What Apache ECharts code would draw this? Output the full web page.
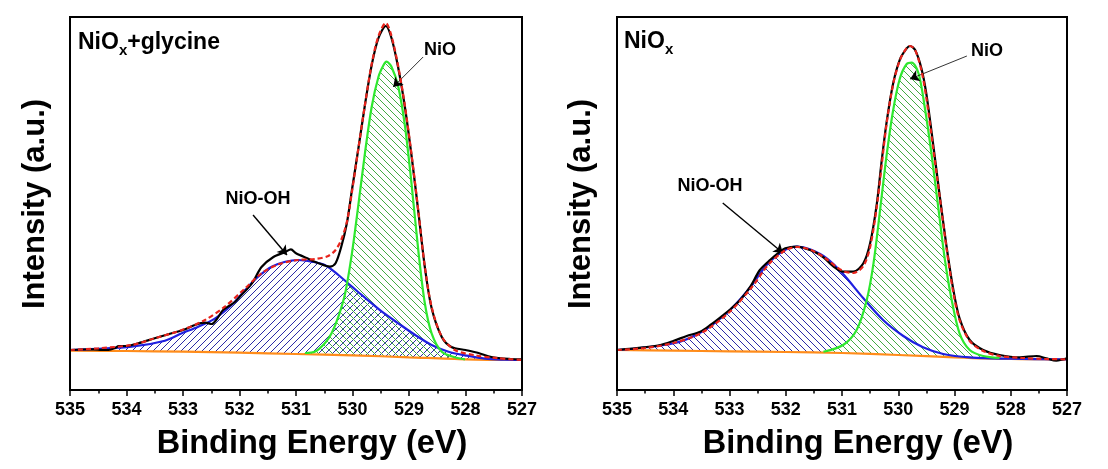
<!DOCTYPE html>
<html>
<head>
<meta charset="utf-8">
<script src="https://cdn.jsdelivr.net/npm/echarts@6/dist/echarts.min.js"></script>
<title>O 1s XPS</title>
<style>
  html, body { margin: 0; padding: 0; background: #fff; }
  #c { width: 1108px; height: 469px; }
</style>
</head>
<body>
<div id="c"></div>
<script>
// binding energy (eV), intensity (a.u.)
// left panel: NiOx + glycine
var glyRaw = [[535.00,40],[534.80,40.5],[534.59,40.7],[534.45,40.2],[534.32,40],[534.20,42],[534.14,44],[534.00,44],[533.79,46.7],[533.50,51.7],[533.20,56.7],[533.00,60],[532.79,65],[532.61,67.3],[532.49,66],[532.40,71],[532.29,80],[532.08,88],[532.00,93],[531.78,106.7],[531.61,123],[531.40,133],[531.19,138],[531.09,140.7],[531.00,136.7],[530.80,131.7],[530.60,126.7],[530.40,123.3],[530.30,126.7],[530.20,143],[530.10,166.7],[530.01,200],[529.90,240],[529.78,285],[529.66,325],[529.54,352],[529.41,364],[529.31,352],[529.19,322],[529.07,282],[528.95,232],[528.83,176],[528.72,123],[528.60,82],[528.42,53],[528.25,43],[528.00,40],[527.77,37],[527.54,33],[527.20,31],[527.00,30.7]];
var glyFit = [[535.00,40],[534.50,41.7],[533.91,45],[533.50,51.7],[533.02,60],[532.61,70],[532.26,83.3],[531.90,101.7],[531.61,116.7],[531.31,125.7],[530.96,130],[530.66,131],[530.43,134],[530.30,140],[530.20,150],[530.10,168],[530.01,198],[529.90,240],[529.78,285],[529.66,326],[529.54,354],[529.41,367],[529.31,354],[529.19,323.3],[529.07,283.3],[528.95,233.3],[528.83,176.7],[528.72,123.3],[528.60,83.3],[528.42,53.3],[528.19,40],[527.83,34.7],[527.42,31.7],[527.00,30]];
var glyNiO = [[530.84,37],[530.66,38.5],[530.49,46.7],[530.37,56.7],[530.25,73.3],[530.13,96.7],[530.01,136.7],[529.90,183.3],[529.78,236.7],[529.66,283.3],[529.54,313.3],[529.45,325],[529.40,328.3],[529.31,323.3],[529.19,303.3],[529.07,263.3],[528.95,203.3],[528.83,136.7],[528.72,86.7],[528.60,56.7],[528.42,38.3],[528.19,32.7],[528.01,30.7]];
var glyNiOOH = [[535.00,40],[533.91,43.3],[533.32,49.3],[533.02,56.7],[532.73,63.3],[532.43,71.7],[532.14,85],[531.90,100],[531.67,113.3],[531.43,123.3],[531.19,128.3],[530.96,130],[530.72,128.3],[530.49,125],[530.25,115],[530.01,103.3],[529.78,92.3],[529.48,78.3],[529.19,66.7],[528.89,55],[528.60,45],[528.30,38.3],[528.01,34.7],[527.66,31.3],[527.30,30.3],[527.00,30]];
var glyBg = [[535,39.3],[534,39],[533,38.3],[532,37.3],[531,36],[530,34.7],[529,32.7],[528,30.7],[527,30]];

// right panel: NiOx
var pureRaw = [[535.00,40],[534.53,42.7],[534.23,45],[533.99,49.3],[533.76,54],[533.52,58.3],[533.34,65],[533.11,75],[533.00,80],[532.81,90],[532.63,103.3],[532.46,120],[532.28,130],[532.10,138.3],[532.01,141.7],[531.80,143.3],[531.57,140],[531.45,137],[531.33,132.7],[531.15,123.3],[530.98,118.3],[530.80,118.3],[530.62,126.7],[530.50,146.7],[530.38,186.7],[530.30,226.7],[530.21,266.7],[530.09,306.7],[529.97,330.7],[529.85,341.7],[529.79,344],[529.70,340],[529.59,322],[529.50,296],[529.38,246],[529.26,193],[529.14,143],[529.02,100],[528.91,71.7],[528.73,50],[528.49,40],[528.20,35],[527.84,32.7],[527.54,34],[527.37,31.7],[527.19,29.3],[527.00,31.7]];
var pureFit = [[535.00,40],[534.50,42],[534.00,47],[533.50,57],[533.00,78],[532.60,103],[532.30,126],[532.00,140],[531.80,143],[531.55,140],[531.30,132],[531.00,119.5],[530.80,117],[530.62,124],[530.50,143],[530.38,184],[530.21,265],[530.09,306],[529.97,330],[529.85,342],[529.79,344],[529.70,340],[529.59,320],[529.50,292],[529.38,242],[529.26,192],[529.14,141],[529.02,97],[528.91,70],[528.73,49],[528.49,39],[528.20,34],[527.80,32],[527.40,31],[527.00,30.7]];
var pureNiO = [[531.33,38.3],[530.98,45],[530.74,60],[530.56,90],[530.44,126.7],[530.33,176.7],[530.21,233.3],[530.09,280],[529.97,311.7],[529.85,326],[529.76,327.3],[529.64,316.7],[529.53,283.3],[529.41,236.7],[529.29,183.3],[529.17,130],[529.05,90],[528.91,56.7],[528.73,40],[528.49,34],[528.20,32]];
var pureNiOOH = [[535.00,40],[533.99,46.7],[533.46,59.3],[532.99,80],[532.63,102.7],[532.34,125],[532.04,139.3],[531.80,143.3],[531.57,140.7],[531.27,131.7],[530.98,116],[530.62,91.7],[530.27,70],[529.91,54],[529.56,42.7],[529.20,36],[528.73,32.7],[528.02,31.3],[527.00,30.7]];
var pureBg = [[535,40],[534,39.3],[533,38.7],[532,38],[531,37],[530,35],[529,32.7],[528,31],[527,30.7]];

var FONT = 'Arial, "Liberation Sans", sans-serif';

// crisp 1px diagonal hatch tile; dir > 0 is '/', otherwise '\'
function hatch(color, dir) {
  var s = 7;
  var c = document.createElement('canvas');
  c.width = s; c.height = s;
  var ctx = c.getContext('2d');
  ctx.fillStyle = color;
  for (var i = 0; i < s; i++) {
    ctx.fillRect(i, dir > 0 ? s - 1 - i : i, 1, 1);
  }
  return { image: c, repeat: 'repeat' };
}

function line(idx, data, color, width, z, extra) {
  var s = {
    type: 'line', xAxisIndex: idx, yAxisIndex: idx, data: data,
    smooth: 0.3, showSymbol: false, silent: true, z: z,
    lineStyle: { color: color, width: width }
  };
  for (var k in extra) s[k] = extra[k];
  return s;
}

function area(idx, data, pattern, z) {
  return {
    type: 'line', xAxisIndex: idx, yAxisIndex: idx, data: data,
    smooth: 0.3, showSymbol: false, silent: true, z: z,
    lineStyle: { width: 0 }, areaStyle: { color: pattern, opacity: 1, origin: 'start' }
  };
}

function arrows(list, width) {
  return {
    silent: true, symbol: ['none', 'arrow'], symbolSize: 9,
    label: { show: false },
    lineStyle: { color: '#000', width: width, type: 'solid' },
    data: list.map(function (a) { return [{ coord: a[0] }, { coord: a[1] }]; })
  };
}

function panel(idx, raw, fit, nio, niooh, bg, ohDir, nioDir, arrowSets) {
  return [
    area(idx, niooh, hatch('#2b2ba6', ohDir), 1),
    area(idx, nio, hatch('#44aa44', nioDir), 1),
    // white under the background line so hatches stop at it
    area(idx, bg, '#ffffff', 2),
    line(idx, bg, '#ff8c1a', 2.2, 3),
    line(idx, niooh, '#1f1fe0', 2.2, 4),
    line(idx, nio, '#2ee82e', 2.2, 4),
    line(idx, raw, '#000000', 2.2, 5, { markLine: arrowSets[0] }),
    line(idx, fit, '#e8241c', 2.2, 6, { lineStyle: { color: '#e8241c', width: 2.2, type: [5, 3] }, markLine: arrowSets[1] })
  ];
}

function xAxisFor(gi) {
  return {
    type: 'value', gridIndex: gi, inverse: true, min: 527, max: 535, interval: 1, z: 10,
    axisLine: { show: true, onZero: false, lineStyle: { color: '#000', width: 2 } },
    axisTick: { show: true, length: 6, lineStyle: { color: '#000', width: 1.5 } },
    minorTick: { show: true, splitNumber: 2, length: 3.5, lineStyle: { color: '#000', width: 1.5 } },
    axisLabel: { color: '#000', fontSize: 18, fontWeight: 'bold', fontFamily: FONT, margin: 11, showMinLabel: true, showMaxLabel: true },
    splitLine: { show: false }
  };
}

function yAxisFor(gi) {
  return {
    type: 'value', gridIndex: gi, min: 0, max: 373,
    axisLine: { show: false }, axisTick: { show: false }, axisLabel: { show: false }, splitLine: { show: false }
  };
}

var chart = echarts.init(document.getElementById('c'), null, { renderer: 'canvas' });

var series = []
  .concat(panel(0, glyRaw, glyFit, glyNiO, glyNiOOH, glyBg, 1, -1, [
    arrows([[[531.76, 175], [531.16, 135]]], 1.4),
    arrows([[[528.75, 333], [529.28, 303]]], 0.8)
  ]))
  .concat(panel(1, pureRaw, pureFit, pureNiO, pureNiOOH, pureBg, -1, -1, [
    arrows([[[533.12, 187], [532.05, 137]]], 1.4),
    arrows([[[528.78, 334], [529.79, 311]]], 0.8)
  ]));

function label(x, y, text, size) {
  return { type: 'text', x: x, y: y, z: 20, silent: true,
    style: { text: text, fill: '#000', font: 'bold ' + size + 'px ' + FONT, align: 'center', verticalAlign: 'middle' } };
}

function sampleName(x, y, tail) {
  return { type: 'text', x: x, y: y, z: 20, silent: true,
    style: {
      text: '{m|NiO}{s|x}' + (tail ? '{m|' + tail + '}' : ''),
      rich: {
        m: { fontSize: 23, fontWeight: 'bold', fontFamily: FONT, fill: '#000', lineHeight: 30 },
        s: { fontSize: 15, fontWeight: 'bold', fontFamily: FONT, fill: '#000', lineHeight: 14, verticalAlign: 'bottom' }
      }
    } };
}

function rotated(x, y, text, size) {
  return { type: 'text', x: x, y: y, rotation: Math.PI / 2, z: 20, silent: true,
    style: { text: text, fill: '#000', font: 'bold ' + size + 'px ' + FONT, align: 'center', verticalAlign: 'middle' } };
}

var option = {
  backgroundColor: '#ffffff',
  animation: false,
  grid: [
    { left: 70, top: 17, width: 452, height: 373, show: true, z: 10, borderColor: '#000', borderWidth: 2, backgroundColor: 'transparent' },
    { left: 617, top: 17, width: 450, height: 373, show: true, z: 10, borderColor: '#000', borderWidth: 2, backgroundColor: 'transparent' }
  ],
  xAxis: [xAxisFor(0), xAxisFor(1)],
  yAxis: [yAxisFor(0), yAxisFor(1)],
  series: series,
  graphic: [
    sampleName(78, 28, '+glycine'),
    sampleName(624, 27, ''),
    label(440, 50, 'NiO', 18),
    label(258, 199, 'NiO-OH', 18),
    label(987, 51, 'NiO', 18),
    label(710, 186, 'NiO-OH', 18),
    label(312, 444, 'Binding Energy (eV)', 32.5),
    label(858, 444, 'Binding Energy (eV)', 32.5),
    rotated(35, 204, 'Intensity (a.u.)', 31),
    rotated(581, 204, 'Intensity (a.u.)', 31)
  ]
};
chart.setOption(option);
</script>
</body>
</html>
